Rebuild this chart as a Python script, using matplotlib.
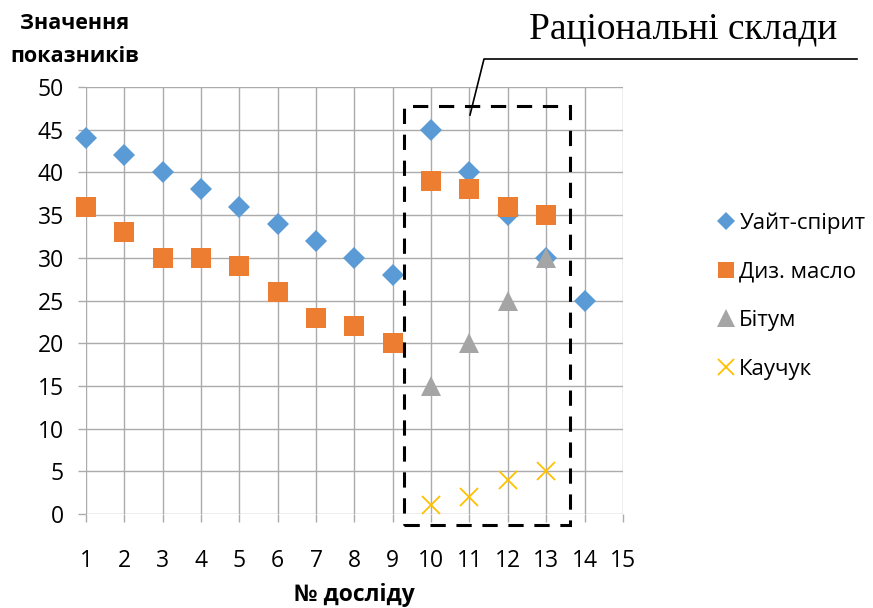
import matplotlib.pyplot as plt
from matplotlib.lines import Line2D
from matplotlib.patches import Rectangle

plt.rcParams['font.family'] = ['Open Sans', 'DejaVu Sans']

# data
x_white = [1, 2, 3, 4, 5, 6, 7, 8, 9, 10, 11, 12, 13, 14]
white_spirit = [44, 42, 40, 38, 36, 34, 32, 30, 28, 45, 40, 35, 30, 25]
x_oil = [1, 2, 3, 4, 5, 6, 7, 8, 9, 10, 11, 12, 13]
diesel_oil = [36, 33, 30, 30, 29, 26, 23, 22, 20, 39, 38, 36, 35]
x_rational = [10, 11, 12, 13]
bitumen = [15, 20, 25, 30]
rubber = [1, 2, 4, 5]

labels = ['Уайт-спірит', 'Диз. масло', 'Бітум', 'Каучук']
colors = ['#5B9BD5', '#ED7D31', '#A5A5A5', '#FFC000']

fig = plt.figure(figsize=(8.73, 6.08), dpi=100)
ax = fig.add_axes([0.0985, 0.1546, 0.615, 0.7023])

ax.plot(x_white, white_spirit, 'D', color=colors[0], ms=11, mew=0, label=labels[0], zorder=3, clip_on=False)
ax.plot(x_oil, diesel_oil, 's', color=colors[1], ms=14, mew=0, label=labels[1], zorder=3, clip_on=False)
ax.plot(x_rational, bitumen, '^', color=colors[2], ms=15, mew=0, label=labels[2], zorder=3, clip_on=False)
ax.plot(x_rational, rubber, 'x', color=colors[3], ms=13, mew=1.3, label=labels[3], zorder=3, clip_on=False)

ax.set_xlim(1, 15)
ax.set_ylim(0, 50)
ax.set_xticks(range(1, 16))
ax.set_yticks(range(0, 51, 5))
ax.grid(True, color='#ABABAB', lw=1)
ax.set_axisbelow(True)
for s in ax.spines.values():
    s.set_visible(False)
ax.tick_params(axis='both', length=6, width=1, color='#ABABAB', labelsize=16.5, colors='#ABABAB',
               labelcolor='black')
ax.tick_params(axis='x', pad=19)
ax.tick_params(axis='y', pad=10)

# dashed frame around the rational compositions
rect = Rectangle((9.29, -1.29), 13.62 - 9.29, 47.8 + 1.29, fill=False, ec='black', lw=2.2,
                 ls=(0, (5, 3.5)), clip_on=False, zorder=4)
ax.add_patch(rect)

# leader line and caption
fig.add_artist(Line2D([470 / 873, 484 / 873, 857 / 873], [1 - 115 / 608, 1 - 59 / 608, 1 - 59 / 608],
                      color='black', lw=1.2))
fig.text(683 / 873, 1 - 29 / 608, 'Раціональні склади', family='Liberation Serif', fontsize=27,
         ha='center', va='center')

fig.text(75 / 873, 1 - 40 / 608, 'Значення\nпоказників', fontsize=15.5, fontweight='bold',
         ha='center', va='center', linespacing=1.8)
fig.text(354 / 873, 1 - 595 / 608, '№ досліду', fontsize=16.5, fontweight='bold', ha='center', va='center')

ax.legend(loc='center left', bbox_to_anchor=(1.163, 0.51), frameon=False, fontsize=16,
          handlelength=0.6, handletextpad=0.3, labelspacing=1.24, markerscale=0.85, borderaxespad=0)

fig.savefig('out.png', dpi=100)
